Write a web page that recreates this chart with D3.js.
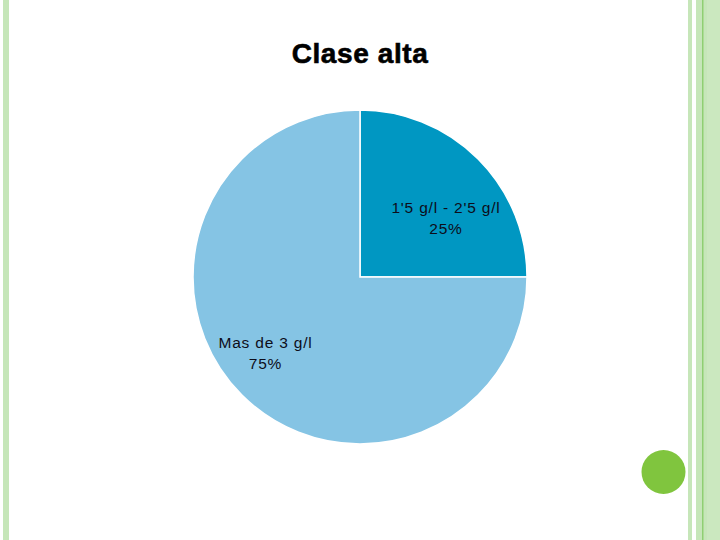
<!DOCTYPE html>
<html><head><meta charset="utf-8">
<script src="https://cdn.jsdelivr.net/npm/d3@7"></script>
<style>body{margin:0;background:#fff}svg{display:block}</style>
</head><body><svg id="c" width="720" height="540"></svg>
<script>
const title = "Clase alta";
const categories = ["1'5 g/l - 2'5 g/l", "Mas de 3 g/l"];
const values = [25, 75];
const pctLabels = ["25%", "75%"];
const colors = ["#0097c2", "#85c4e4"];

const svg = d3.select("#c");
// decorative frame
svg.append("rect").attr("x",3).attr("y",0).attr("width",6).attr("height",540).attr("fill","#c6e6b9");
svg.append("rect").attr("x",688).attr("y",0).attr("width",4).attr("height",540).attr("fill","#c6e6b9");
svg.append("rect").attr("x",696).attr("y",0).attr("width",24).attr("height",540).attr("fill","#c6e6b9");
svg.append("rect").attr("x",702).attr("y",0).attr("width",1.5).attr("height",540).attr("fill","#8fcf72");
svg.append("rect").attr("x",707).attr("y",0).attr("width",13).attr("height",540).attr("fill","#cbe8bf");
svg.append("circle").attr("cx",663.5).attr("cy",472).attr("r",22).attr("fill","#80c53e");

svg.append("text").attr("x",360).attr("y",63).attr("text-anchor","middle")
  .attr("font-family","Liberation Sans, Arial, sans-serif").attr("font-weight","bold")
  .attr("font-size",28).attr("letter-spacing","0.6").attr("fill","#000")
  .attr("stroke","#000").attr("stroke-width",0.6).text(title);

const cx = 360, cy = 277, r = 167;
const pie = d3.pie().sort(null).value(d => d)(values);
const arc = d3.arc().innerRadius(0).outerRadius(r);
const g = svg.append("g").attr("transform", `translate(${cx},${cy})`);
g.selectAll("path").data(pie).join("path").attr("d", arc)
  .attr("fill", (d,i) => colors[i]).attr("stroke","#fff").attr("stroke-width",1.5);

const labelPos = [[86, -64], [-94.5, 71]];
pie.forEach((d,i) => {
  const t = g.append("text").attr("text-anchor","middle")
    .attr("font-family","Liberation Sans, Arial, sans-serif").attr("font-size",15.5)
    .attr("letter-spacing","0.8").attr("fill","#0d0d1a");
  t.append("tspan").attr("x",labelPos[i][0]).attr("y",labelPos[i][1]).text(categories[i]);
  t.append("tspan").attr("x",labelPos[i][0]).attr("y",labelPos[i][1]+20.5).text(pctLabels[i]);
});
</script></body></html>
